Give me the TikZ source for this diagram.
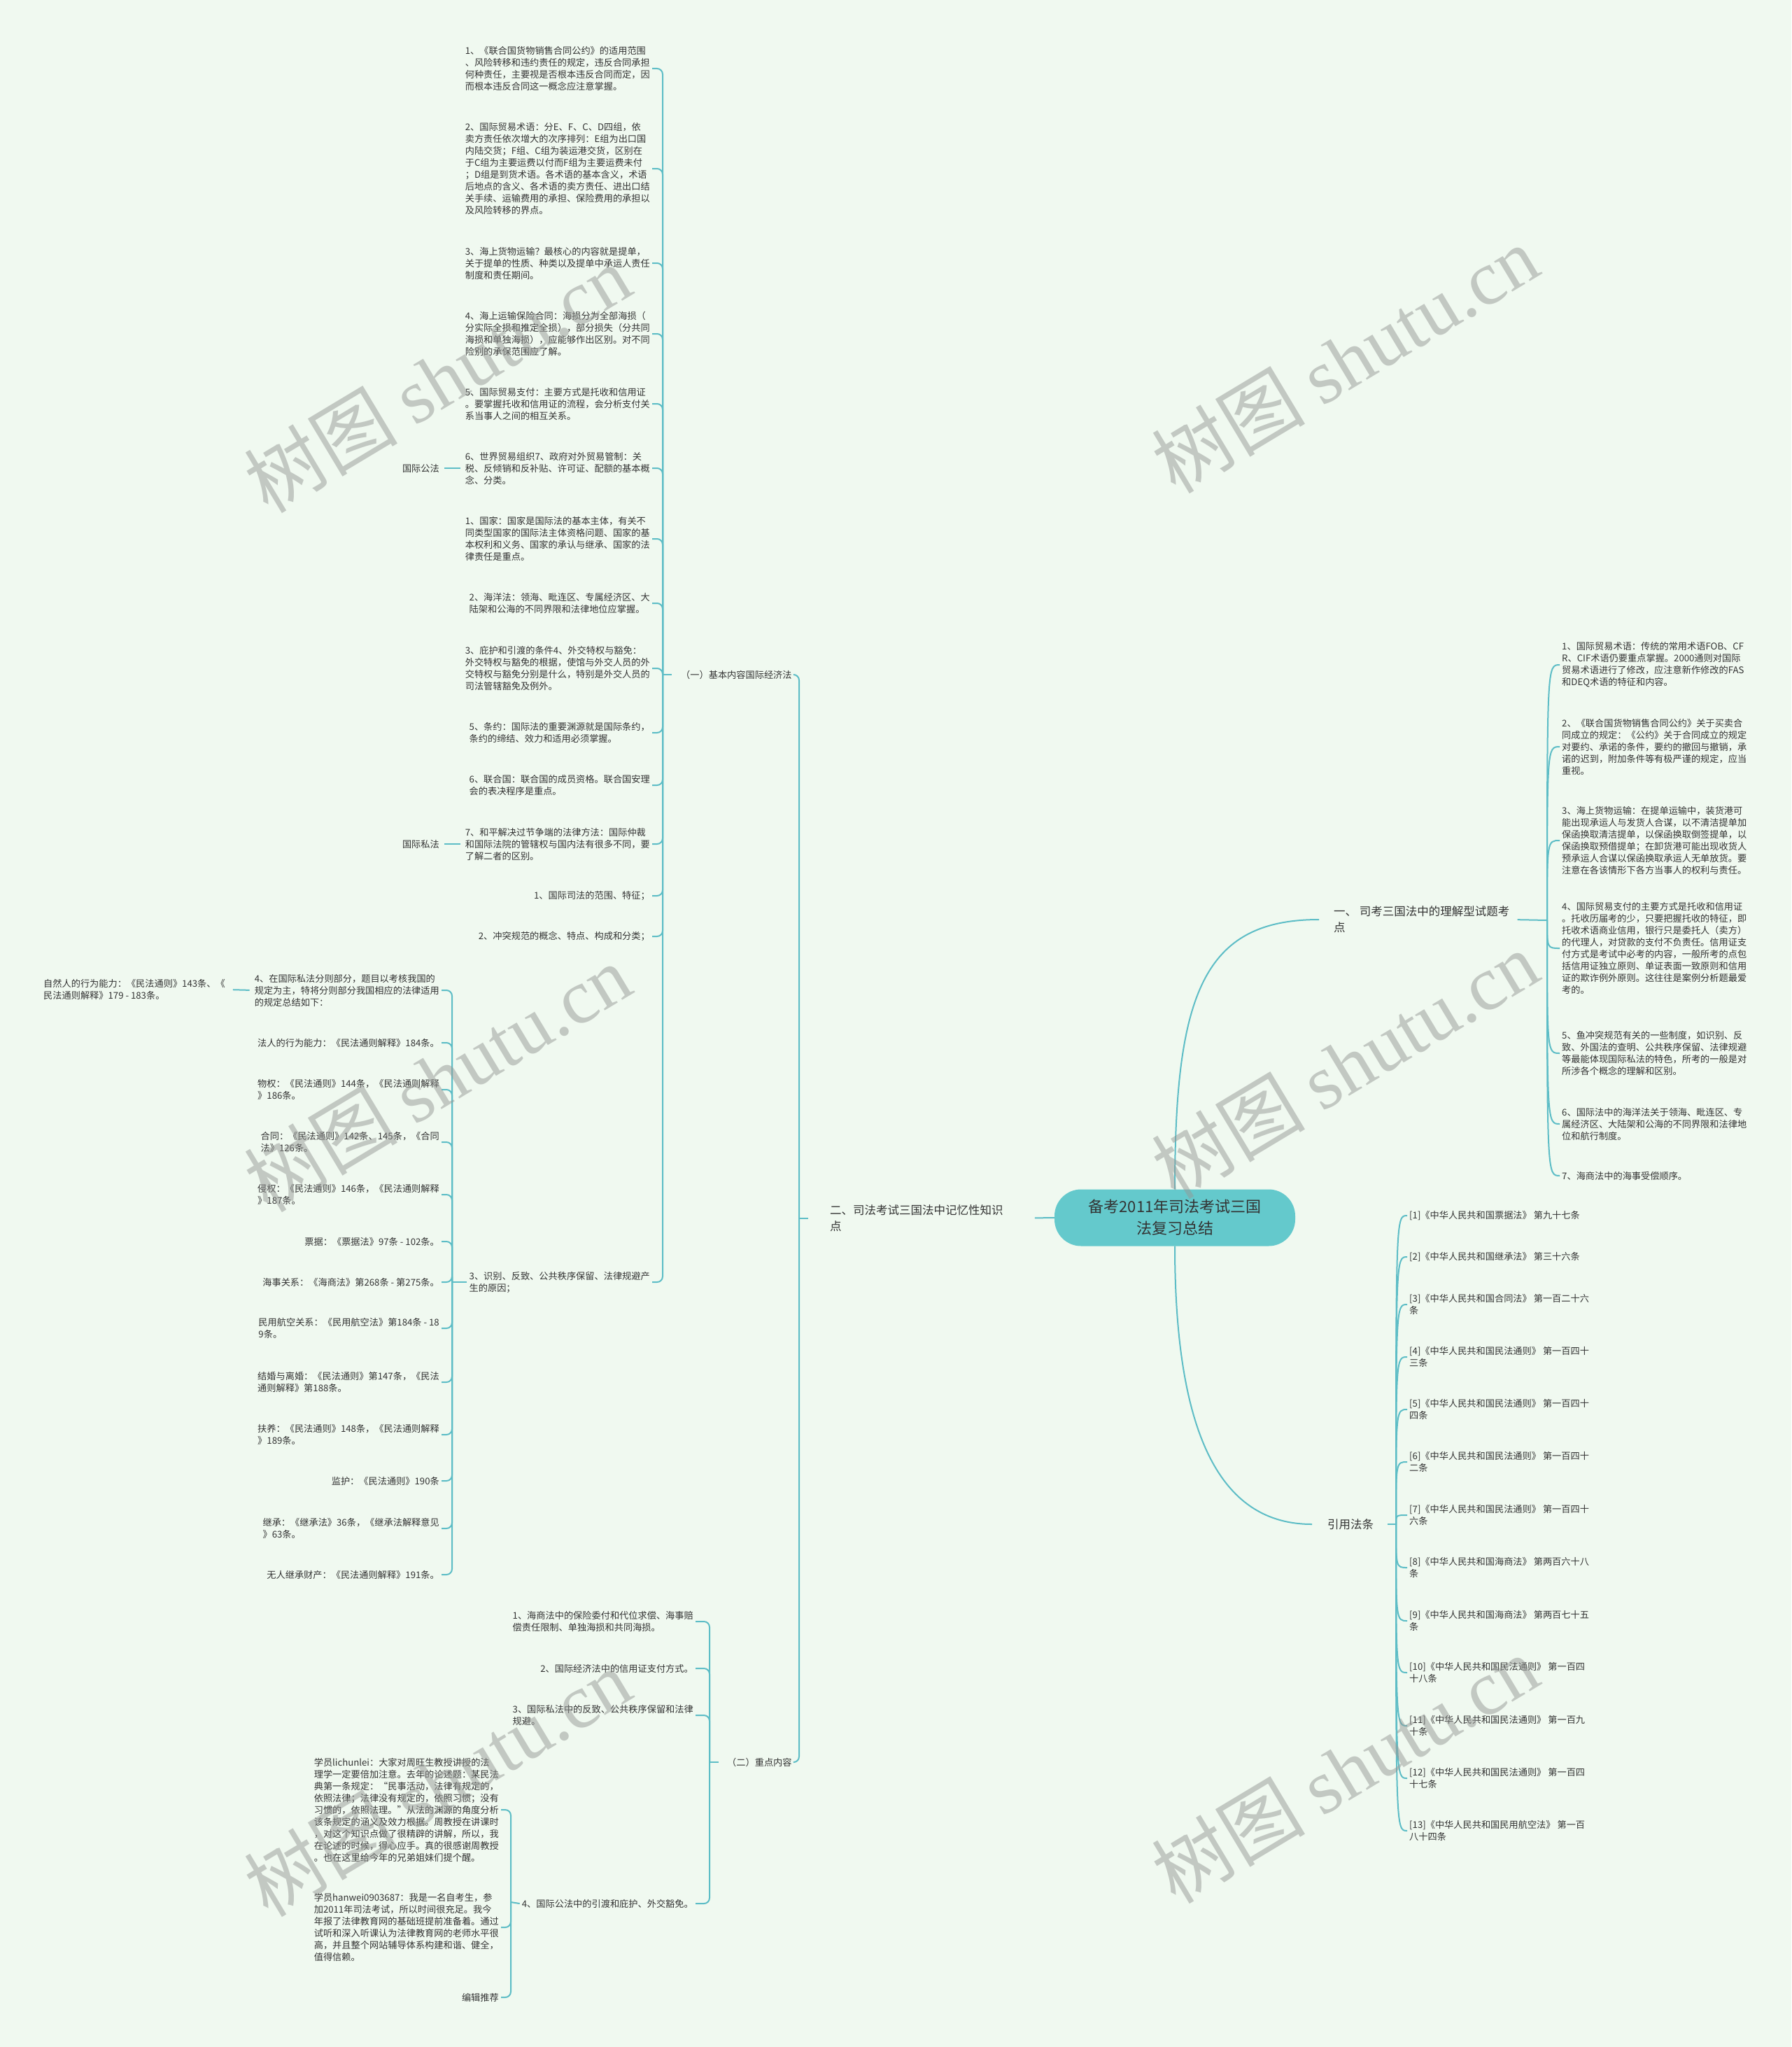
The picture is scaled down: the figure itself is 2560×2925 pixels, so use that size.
\documentclass[tikz,border=0pt]{standalone}
\usepackage{fontspec}
\setmainfont{Noto Sans CJK SC}
\newfontfamily\wmlat{Liberation Serif}
\definecolor{bgc}{HTML}{F0F9F0}
\definecolor{lnc}{HTML}{5DBDC6}
\definecolor{ctrf}{HTML}{64C9CC}
\definecolor{txc}{HTML}{333333}
\definecolor{wmc}{RGB}{150,153,150}
\newcommand\fsm{\fontsize{13.2}{17}\selectfont}
\newcommand\flg{\fontsize{16.5}{23}\selectfont}
\newcommand\fct{\fontsize{22}{31}\selectfont}
\tikzset{
  conn/.style={draw=lnc, line width=2pt},
  hook/.style={conn, rounded corners=8pt},
  lt/.style={font=\fsm, text=txc, align=left, inner sep=3pt, anchor=east},
  rt/.style={font=\fsm, text=txc, align=left, inner sep=3pt, anchor=west},
  lbl/.style={font=\flg, text=txc, align=left, inner sep=3pt, anchor=west},
  wmk/.style={text=wmc, opacity=0.5, rotate=31, font=\fontsize{110}{110}\selectfont, inner sep=0pt},
}
\begin{document}
\begin{tikzpicture}[x=1pt,y=-1pt]
\fill[bgc] (0,0) rectangle (2560,2925);
\useasboundingbox (0,0) rectangle (2560,2925);

% centre
\node[fill=ctrf, rounded corners=38pt, minimum width=344pt, minimum height=81pt, font=\fct, text=txc, align=center] (C) at (1679,1740) {备考2011年司法考试三国\\法复习总结};

% main labels
\node[lbl] (L1) at (1903,1314) {一、 司考三国法中的理解型试题考\\点};
\node[lbl] (L2) at (1183,1741) {二、司法考试三国法中记忆性知识\\点};
\node[lbl] (L3) at (1894,2178) {引用法条};

\draw[conn, shorten >=18pt] (C.north) .. controls (1679,1420) and (1720,1314) .. (L1.west);
\draw[conn, shorten >=19pt] (C.south) .. controls (1679,2080) and (1760,2178) .. (L3.west);
\draw[conn, shorten >=42pt] (C.west) -- (L2.east);

% ---------- left: 二 ----------
\coordinate (T2) at (1142,1741);
\draw[conn, shorten <=28pt] (L2.west) -- (T2);
\node[lt, anchor=west] (A) at (970,964) {（一）基本内容国际经济法};
\node[lt, anchor=west] (B) at (1036,2518) {（二）重点内容};
\draw[hook] (T2) |- (A.east);
\draw[hook] (T2) |- (B.east);

\coordinate (TA) at (947,964);
\draw[conn, shorten <=10pt] (A.west) -- (TA);

\node[lt] (c1) at (932,98) {1、《联合国货物销售合同公约》的适用范围\\、风险转移和违约责任的规定，违反合同承担\\何种责任，主要视是否根本违反合同而定，因\\而根本违反合同这一概念应注意掌握。};
\node[lt] (c2) at (932,241) {2、国际贸易术语：分E、F、C、D四组，依\\卖方责任依次增大的次序排列：E组为出口国\\内陆交货；F组、C组为装运港交货，区别在\\于C组为主要运费以付而F组为主要运费未付\\；D组是到货术语。各术语的基本含义，术语\\后地点的含义、各术语的卖方责任、进出口结\\关手续、运输费用的承担、保险费用的承担以\\及风险转移的界点。};
\node[lt] (c3) at (932,376) {3、海上货物运输？最核心的内容就是提单，\\关于提单的性质、种类以及提单中承运人责任\\制度和责任期间。};
\node[lt] (c4) at (932,477) {4、海上运输保险合同：海损分为全部海损（\\分实际全损和推定全损），部分损失（分共同\\海损和单独海损），应能够作出区别。对不同\\险别的承保范围应了解。};
\node[lt] (c5) at (932,577) {5、国际贸易支付：主要方式是托收和信用证\\。要掌握托收和信用证的流程，会分析支付关\\系当事人之间的相互关系。};
\node[lt] (c6) at (932,669) {6、世界贸易组织7、政府对外贸易管制：关\\税、反倾销和反补贴、许可证、配额的基本概\\念、分类。};
\node[lt] (c7) at (932,770) {1、国家：国家是国际法的基本主体，有关不\\同类型国家的国际法主体资格问题、国家的基\\本权利和义务、国家的承认与继承、国家的法\\律责任是重点。};
\node[lt] (c8) at (932,862) {2、海洋法：领海、毗连区、专属经济区、大\\陆架和公海的不同界限和法律地位应掌握。};
\node[lt] (c9) at (932,955) {3、庇护和引渡的条件4、外交特权与豁免：\\外交特权与豁免的根据，使馆与外交人员的外\\交特权与豁免分别是什么，特别是外交人员的\\司法管辖豁免及例外。};
\node[lt] (c10) at (932,1047) {5、条约：国际法的重要渊源就是国际条约，\\条约的缔结、效力和适用必须掌握。};
\node[lt] (c11) at (932,1122) {6、联合国：联合国的成员资格。联合国安理\\会的表决程序是重点。};
\node[lt] (c12) at (932,1206) {7、和平解决过节争端的法律方法：国际仲裁\\和国际法院的管辖权与国内法有很多不同，要\\了解二者的区别。};
\node[lt] (c13) at (932,1280) {1、国际司法的范围、特征；};
\node[lt] (c14) at (932,1338) {2、冲突规范的概念、特点、构成和分类；};
\node[lt] (c15) at (932,1832) {3、识别、反致、公共秩序保留、法律规避产\\生的原因；};
\foreach \n in {c1,c2,c3,c4,c5,c6,c7,c8,c9,c10,c11,c12,c13,c14,c15}
  \draw[hook] (TA) |- (\n.east);

\node[lt] (gf) at (631,669) {国际公法};
\node[lt] (sf) at (631,1206) {国际私法};
\draw[conn, shorten <=4pt, shorten >=4pt] (c6.west) -- (gf.east);
\draw[conn, shorten <=4pt, shorten >=4pt] (c12.west) -- (sf.east);

% c15 children
\coordinate (TC) at (646,1832);
\draw[conn] (c15.west) -- (TC);
\node[lt] (d1) at (631,1415) {4、在国际私法分则部分，题目以考核我国的\\规定为主，特将分则部分我国相应的法律适用\\的规定总结如下：};
\node[lt] (d2) at (631,1490) {法人的行为能力：《民法通则解释》184条。};
\node[lt] (d3) at (631,1557) {物权：《民法通则》144条，《民法通则解释\\》186条。};
\node[lt] (d4) at (631,1632) {合同：《民法通则》142条、145条，《合同\\法》126条。};
\node[lt] (d5) at (631,1707) {侵权：《民法通则》146条，《民法通则解释\\》187条。};
\node[lt] (d6) at (631,1774) {票据：《票据法》97条 - 102条。};
\node[lt] (d7) at (631,1832) {海事关系：《海商法》第268条 - 第275条。};
\node[lt] (d8) at (631,1898) {民用航空关系：《民用航空法》第184条 - 18\\9条。};
\node[lt] (d9) at (631,1975) {结婚与离婚：《民法通则》第147条，《民法\\通则解释》第188条。};
\node[lt] (d10) at (631,2050) {扶养：《民法通则》148条，《民法通则解释\\》189条。};
\node[lt] (d11) at (631,2116) {监护：《民法通则》190条};
\node[lt] (d12) at (631,2184) {继承：《继承法》36条，《继承法解释意见\\》63条。};
\node[lt] (d13) at (631,2250) {无人继承财产：《民法通则解释》191条。};
\foreach \n in {d1,d2,d3,d4,d5,d6,d7,d8,d9,d10,d11,d12,d13}
  \draw[hook] (TC) |- (\n.east);

\node[rt] (zr) at (59,1414) {自然人的行为能力：《民法通则》143条、《\\民法通则解释》179 - 183条。};
\draw[conn, shorten <=4pt, shorten >=8pt] (d1.west) -- (zr.east);

% (二) children
\coordinate (TB) at (1014,2518);
\draw[conn, shorten <=9pt] (B.west) -- (TB);
\node[lt] (e1) at (994,2317) {1、海商法中的保险委付和代位求偿、海事赔\\偿责任限制、单独海损和共同海损。};
\node[lt] (e2) at (994,2384) {2、国际经济法中的信用证支付方式。};
\node[lt] (e3) at (994,2451) {3、国际私法中的反致、公共秩序保留和法律\\规避。};
\node[lt] (e4) at (994,2720) {4、国际公法中的引渡和庇护、外交豁免。};
\foreach \n in {e1,e2,e3,e4}
  \draw[hook] (TB) |- (\n.east);

\coordinate (TE) at (730,2718);
\draw[conn] (e4.west) -- (TE);
\node[lt] (f1) at (716,2586) {学员lichunlei：大家对周旺生教授讲授的法\\理学一定要倍加注意。去年的论述题：某民法\\典第一条规定：“民事活动，法律有规定的，\\依照法律；法律没有规定的，依照习惯；没有\\习惯的，依照法理。”从法的渊源的角度分析\\该条规定的涵义及效力根据。周教授在讲课时\\，对这个知识点做了很精辟的讲解，所以，我\\在论述的时候，得心应手。真的很感谢周教授\\。也在这里给今年的兄弟姐妹们提个醒。};
\node[lt] (f2) at (716,2754) {学员hanwei0903687：我是一名自考生，参\\加2011年司法考试，所以时间很充足。我今\\年报了法律教育网的基础班提前准备着。通过\\试听和深入听课认为法律教育网的老师水平很\\高，并且整个网站辅导体系构建和谐、健全，\\值得信赖。};
\node[lt] (f3) at (716,2854) {编辑推荐};
\foreach \n in {f1,f2,f3}
  \draw[hook] (TE) |- (\n.east);

% ---------- right: 一 ----------
\coordinate (TR1) at (2211,1315);
\draw[conn, shorten <=8pt] (L1.east) -- (TR1);
\node[rt] (g1) at (2229,950) {1、国际贸易术语：传统的常用术语FOB、CF\\R、CIF术语仍要重点掌握。2000通则对国际\\贸易术语进行了修改，应注意新作修改的FAS\\和DEQ术语的特征和内容。};
\node[rt] (g2) at (2229,1067) {2、《联合国货物销售合同公约》关于买卖合\\同成立的规定：《公约》关于合同成立的规定\\对要约、承诺的条件，要约的撤回与撤销，承\\诺的迟到，附加条件等有极严谨的规定，应当\\重视。};
\node[rt] (g3) at (2229,1201) {3、海上货物运输：在提单运输中，装货港可\\能出现承运人与发货人合谋，以不清洁提单加\\保函换取清洁提单，以保函换取倒签提单，以\\保函换取预借提单；在卸货港可能出现收货人\\预承运人合谋以保函换取承运人无单放货。要\\注意在各该情形下各方当事人的权利与责任。};
\node[rt] (g4) at (2229,1355) {4、国际贸易支付的主要方式是托收和信用证\\。托收历届考的少，只要把握托收的特征，即\\托收术语商业信用，银行只是委托人（卖方）\\的代理人，对贷款的支付不负责任。信用证支\\付方式是考试中必考的内容，一般所考的点包\\括信用证独立原则、单证表面一致原则和信用\\证的欺诈例外原则。这往往是案例分析题最爱\\考的。};
\node[rt] (g5) at (2229,1505) {5、鱼冲突规范有关的一些制度，如识别、反\\致、外国法的查明、公共秩序保留、法律规避\\等最能体现国际私法的特色，所考的一般是对\\所涉各个概念的理解和区别。};
\node[rt] (g6) at (2229,1606) {6、国际法中的海洋法关于领海、毗连区、专\\属经济区、大陆架和公海的不同界限和法律地\\位和航行制度。};
\node[rt] (g7) at (2229,1680) {7、海商法中的海事受偿顺序。};
\draw[conn] (TR1) .. controls (2211,950) .. (g1.west);
\draw[conn] (TR1) .. controls (2211,1067) .. (g2.west);
\draw[conn] (TR1) .. controls (2211,1201) .. (g3.west);
\draw[conn] (TR1) .. controls (2211,1355) .. (g4.west);
\draw[conn] (TR1) .. controls (2211,1505) .. (g5.west);
\draw[conn] (TR1) .. controls (2211,1606) .. (g6.west);
\draw[conn] (TR1) .. controls (2211,1680) .. (g7.west);

% ---------- right: 引用法条 ----------
\coordinate (TR3) at (1995,2178);
\draw[conn, shorten <=17pt] (L3.east) -- (TR3);
\node[rt] (h1) at (2011,1737) {[1]《中华人民共和国票据法》 第九十七条};
\node[rt] (h2) at (2011,1796) {[2]《中华人民共和国继承法》 第三十六条};
\node[rt] (h3) at (2011,1864) {[3]《中华人民共和国合同法》 第一百二十六\\条};
\node[rt] (h4) at (2011,1939) {[4]《中华人民共和国民法通则》 第一百四十\\三条};
\node[rt] (h5) at (2011,2014) {[5]《中华人民共和国民法通则》 第一百四十\\四条};
\node[rt] (h6) at (2011,2089) {[6]《中华人民共和国民法通则》 第一百四十\\二条};
\node[rt] (h7) at (2011,2165) {[7]《中华人民共和国民法通则》 第一百四十\\六条};
\node[rt] (h8) at (2011,2240) {[8]《中华人民共和国海商法》 第两百六十八\\条};
\node[rt] (h9) at (2011,2316) {[9]《中华人民共和国海商法》 第两百七十五\\条};
\node[rt] (h10) at (2011,2390) {[10]《中华人民共和国民法通则》 第一百四\\十八条};
\node[rt] (h11) at (2011,2466) {[11]《中华人民共和国民法通则》 第一百九\\十条};
\node[rt] (h12) at (2011,2541) {[12]《中华人民共和国民法通则》 第一百四\\十七条};
\node[rt] (h13) at (2011,2616) {[13]《中华人民共和国民用航空法》 第一百\\八十四条};
\foreach \n/\yy in {h1/1737,h2/1796,h3/1864,h4/1939,h5/2014,h6/2089,h7/2165,h8/2240,h9/2316,h10/2390,h11/2466,h12/2541,h13/2616}
  \draw[conn] (TR3) .. controls (1995,\yy) .. (\n.west);

% ---------- watermarks ----------
\node[wmk] (wm1) at (625,541) {树图 {\wmlat shutu.cn}};
\node[wmk] (wm2) at (1922,513) {树图 {\wmlat shutu.cn}};
\node[wmk] (wm3) at (625,1540) {树图 {\wmlat shutu.cn}};
\node[wmk] (wm4) at (1922,1521) {树图 {\wmlat shutu.cn}};
\node[wmk] (wm5) at (625,2547) {树图 {\wmlat shutu.cn}};
\node[wmk] (wm6) at (1922,2528) {树图 {\wmlat shutu.cn}};
\end{tikzpicture}
\end{document}
